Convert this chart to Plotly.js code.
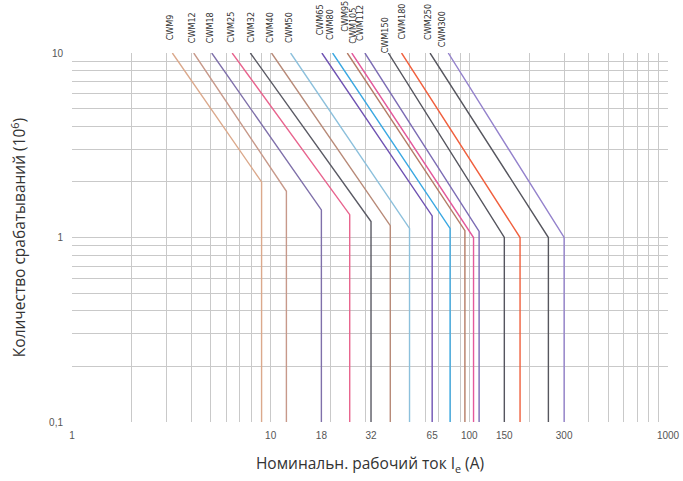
<!DOCTYPE html>
<html>
<head>
<meta charset="utf-8">
<script src="https://cdn.plot.ly/plotly-3.0.1.min.js"></script>
<style>
  html, body { margin: 0; padding: 0; background: #ffffff; }
  #chart { width: 683px; height: 481px; }
</style>
</head>
<body>
<div id="chart"></div>
<script>
// ---- data ----
const models = ['CWM9','CWM12','CWM18','CWM25','CWM32','CWM40','CWM50','CWM65',
                'CWM80','CWM95','CWM105','CWM112','CWM150','CWM180','CWM250','CWM300'];
// rated operational current Ie (A): vertical segment
const ratedCurrent = [9, 12, 18, 25, 32, 40, 50, 65, 80, 95, 105, 112, 150, 180, 250, 300];
// current (A) where each curve crosses 10 million operations
const currentAtTop = [3.2, 4.1, 5.05, 6.4, 7.9, 10.1, 12.6, 18.1, 20.5, 24.3, 25.6, 29.8, 39.1, 45.6, 63.4, 78.3];
// operations (10^6) at the knee, where the curve turns vertical
const kneeOps = [2.0, 1.78, 1.41, 1.33, 1.22, 1.16, 1.12, 1.31, 1.12, 1.09, 1.0, 1.08, 1.0, 1.0, 1.0, 1.0];
const topOps = 10;
const bottomOps = 0.1;

const xTickVals = [1, 10, 18, 32, 65, 100, 150, 300, 1000];
const xTickText = ['1', '10', '18', '32', '65', '100', '150', '300', '1000'];
const yTickVals = [0.1, 1, 10];
const yTickText = ['0,1', '1', '10'];

// ---- styles ----
const colors = ['#dba98c','#c7998a','#7f70aa','#e8648e','#5a5a64','#b88a78','#8cc0dc','#6f52b2',
                '#3aa8e2','#b47c66','#e4589a','#7c6cb4','#55555e','#f0603e','#56565e','#9482cc'];
const labelLift = [14, 11, 11, 11, 11, 11, 11, 19, 14, 22, 10, 13, 1, 14, 14, 7];
const labelShift = [-2, -2, -2, -2, 0, -2, -2, -2, -3, -3, 1, -5, -3, 0, -2, -6];

const minorX = [];
[1, 10, 100].forEach(d => { for (let k = 1; k <= 9; k++) minorX.push(d * k); });
minorX.push(1000);
const minorY = [];
[0.1, 1].forEach(d => { for (let k = 1; k <= 9; k++) minorY.push(+(d * k).toFixed(2)); });
minorY.push(10);

const traces = models.map((m, i) => ({
  type: 'scatter',
  mode: 'lines',
  name: m,
  x: [currentAtTop[i], ratedCurrent[i], ratedCurrent[i]],
  y: [topOps, kneeOps[i], bottomOps],
  line: { color: colors[i], width: 1.4 },
  hoverinfo: 'name',
  showlegend: false
}));

const annotations = models.map((m, i) => ({
  text: m,
  xref: 'x', yref: 'paper',
  x: Math.log10(currentAtTop[i]),
  y: 1,
  xanchor: 'center', yanchor: 'bottom',
  textangle: -90,
  showarrow: false,
  xshift: labelShift[i],
  yshift: labelLift[i] - 3,
  font: { family: 'Liberation Sans Narrow, DejaVu Sans Condensed, Arial Narrow, sans-serif', size: 9, color: '#333333' }
}));

const gridColor = '#c9c9c9';
const layout = {
  width: 683, height: 481,
  margin: { l: 72, r: 15, t: 53, b: 59 },
  paper_bgcolor: '#ffffff',
  plot_bgcolor: '#ffffff',
  showlegend: false,
  xaxis: {
    type: 'log',
    range: [0, 3],
    tickmode: 'array',
    tickvals: xTickVals,
    ticktext: xTickText,
    showgrid: false,
    zeroline: false,
    showline: false,
    ticks: '',
    ticklabelstandoff: 6,
    tickfont: { family: 'Liberation Sans, Arial, sans-serif', size: 10, color: '#555555' },
    minor: { tickmode: 'array', tickvals: minorX, showgrid: true, gridcolor: gridColor, gridwidth: 1, ticks: '' },
    title: {
      text: 'Номинальн. рабочий ток I<sub>e</sub> (А)',
      font: { family: 'Open Sans, Noto Sans, sans-serif', size: 15.5, color: '#333333' },
      standoff: 18
    }
  },
  yaxis: {
    type: 'log',
    range: [-1, 1],
    tickmode: 'array',
    tickvals: yTickVals,
    ticktext: yTickText,
    showgrid: false,
    zeroline: false,
    showline: false,
    ticks: '',
    ticklabelstandoff: 8,
    tickfont: { family: 'Liberation Sans, Arial, sans-serif', size: 10, color: '#555555' },
    minor: { tickmode: 'array', tickvals: minorY, showgrid: true, gridcolor: gridColor, gridwidth: 1, ticks: '' },
    title: {
      text: 'Количество срабатываний (10<sup>6</sup>)',
      font: { family: 'Open Sans, Noto Sans, sans-serif', size: 15.5, color: '#333333' },
      standoff: 19
    }
  },
  annotations: annotations
};

Plotly.newPlot('chart', traces, layout, { displayModeBar: false, staticPlot: true });
</script>
</body>
</html>
